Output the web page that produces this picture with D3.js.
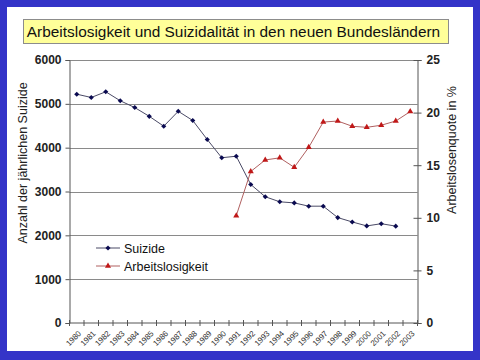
<!DOCTYPE html>
<html><head><meta charset="utf-8">
<script src="https://cdn.jsdelivr.net/npm/d3@7"></script>
<style>body{margin:0;background:#3434c8;}svg{display:block;}</style>
</head><body>
<svg id="c" width="480" height="360"></svg>
<script>
const years = ["1980","1981","1982","1983","1984","1985","1986","1987","1988","1989","1990","1991","1992","1993","1994","1995","1996","1997","1998","1999","2000","2001","2002","2003"];
const suizideYears = ["1980","1981","1982","1983","1984","1985","1986","1987","1988","1989","1990","1991","1992","1993","1994","1995","1996","1997","1998","1999","2000","2001","2002"];
const suizide = [5220,5145,5275,5070,4915,4715,4490,4830,4620,4185,3770,3805,3160,2880,2765,2740,2665,2665,2405,2305,2215,2265,2210];
const alYears = ["1991","1992","1993","1994","1995","1996","1997","1998","1999","2000","2001","2002","2003"];
const arbeitslosigkeit = [10.2,14.4,15.5,15.7,14.8,16.7,19.1,19.2,18.7,18.6,18.8,19.2,20.1];
const leftTicks = [0,1000,2000,3000,4000,5000,6000];
const rightTicks = [0,5,10,15,20,25];
const title = "Arbeitslosigkeit und Suizidalität in den neuen Bundesländern";

const svg = d3.select("#c");
const font = "Liberation Sans, Arial, sans-serif";
svg.append("rect").attr("x",0).attr("y",0).attr("width",480).attr("height",360).attr("fill","#3434c8");
svg.append("rect").attr("x",7).attr("y",7).attr("width",466).attr("height",344).attr("fill","#ffffff");

// title box
svg.append("rect").attr("x",23.5).attr("y",19.5).attr("width",425).attr("height",24)
  .attr("fill","#ffff99").attr("stroke","#8c8c8c").attr("stroke-width",1);
svg.append("text").attr("x",233.5).attr("y",37).attr("text-anchor","middle")
  .attr("font-family",font).attr("font-size",15.4).attr("fill","#111").text(title);

const L=69.5, R=417.5, T=60, B=323;
const x = d3.scaleBand().domain(years).range([L,R]);
const yL = d3.scaleLinear().domain([0,6000]).range([B,T]);
const yR = d3.scaleLinear().domain([0,25]).range([B,T]);

// gridlines
svg.append("g").selectAll("line").data(leftTicks.filter(d=>d>0)).join("line")
  .attr("x1",L).attr("x2",R).attr("y1",d=>Math.round(yL(d))+0.5).attr("y2",d=>Math.round(yL(d))+0.5)
  .attr("stroke","#8a8a8a").attr("stroke-width",1.2);

// left axis
const gL = svg.append("g").attr("transform",`translate(${L},0)`)
  .call(d3.axisLeft(yL).tickValues(leftTicks).tickSize(4).tickPadding(4).tickFormat(d3.format("d")));
gL.select(".domain").attr("stroke","#555");
gL.selectAll(".tick line").attr("stroke","#555");
gL.selectAll("text").attr("font-family",font).attr("font-size",12).attr("font-weight","bold").attr("fill","#222");

// right axis
const gR = svg.append("g").attr("transform",`translate(${R},0)`)
  .call(d3.axisRight(yR).tickValues(rightTicks).tickSize(4).tickPadding(5));
gR.selectAll(".tick line").attr("x1",-4).attr("stroke","#555");
gR.select(".domain").attr("stroke","#555");
gR.selectAll("text").attr("font-family",font).attr("font-size",12).attr("font-weight","bold").attr("fill","#222");

// bottom axis
const gB = svg.append("g").attr("transform",`translate(0,${B})`);
gB.append("line").attr("x1",L).attr("x2",R).attr("y1",0).attr("y2",0).attr("stroke","#555");
gB.selectAll("line.t").data(years.concat(["end"])).join("line").attr("class","t")
  .attr("x1",(d,i)=>L+i*x.step()).attr("x2",(d,i)=>L+i*x.step()).attr("y1",-3).attr("y2",3).attr("stroke","#555");
gB.selectAll("text").data(years).join("text")
  .attr("transform",d=>`translate(${x(d)+x.bandwidth()/2+5},11) rotate(-45)`)
  .attr("text-anchor","end").attr("font-family",font).attr("font-size",8).attr("fill","#333").text(d=>d);

// axis titles
svg.append("text").attr("transform","translate(27,163) rotate(-90)").attr("text-anchor","middle")
  .attr("font-family",font).attr("font-size",12.5).attr("fill","#222").text("Anzahl der jährlichen Suizide");
svg.append("text").attr("transform","translate(456,150) rotate(-90)").attr("text-anchor","middle")
  .attr("font-family",font).attr("font-size",12.5).attr("fill","#222").text("Arbeitslosenquote in %");

const cx = d => x(d)+x.bandwidth()/2;

// suizide line
const sData = suizideYears.map((y,i)=>({y,v:suizide[i]}));
svg.append("path").datum(sData).attr("fill","none").attr("stroke","#4a4a66").attr("stroke-width",1)
  .attr("d",d3.line().x(d=>cx(d.y)).y(d=>yL(d.v)));
const diamond = d3.symbol().type(d3.symbolSquare).size(13);
svg.append("g").selectAll("path").data(sData).join("path")
  .attr("transform",d=>`translate(${cx(d.y)},${yL(d.v)}) rotate(45)`).attr("d",diamond()).attr("fill","#0a0a50");

// arbeitslosigkeit line
const aData = alYears.map((y,i)=>({y,v:arbeitslosigkeit[i]}));
svg.append("path").datum(aData).attr("fill","none").attr("stroke","#b06060").attr("stroke-width",1)
  .attr("d",d3.line().x(d=>cx(d.y)).y(d=>yR(d.v)));
const tri = d3.symbol().type(d3.symbolTriangle).size(16);
svg.append("g").selectAll("path").data(aData).join("path")
  .attr("transform",d=>`translate(${cx(d.y)},${yR(d.v)})`).attr("d",tri()).attr("fill","#c01818");

// legend
const leg = [{name:"Suizide",sym:diamond(),rot:45,col:"#0a0a50",line:"#4a4a66"},{name:"Arbeitslosigkeit",sym:tri(),rot:0,col:"#c01818",line:"#b06060"}];
const lg = svg.append("g").selectAll("g").data(leg).join("g").attr("transform",(d,i)=>`translate(96,${248+i*18})`);
lg.append("line").attr("x1",0).attr("x2",24).attr("stroke",d=>d.line);
lg.append("path").attr("transform",d=>`translate(12,0) rotate(${d.rot})`).attr("d",d=>d.sym).attr("fill",d=>d.col);
lg.append("text").attr("x",28).attr("y",4.5).attr("font-family",font).attr("font-size",12.5).attr("fill","#111").text(d=>d.name);
</script>
</body></html>
